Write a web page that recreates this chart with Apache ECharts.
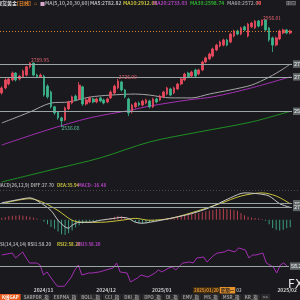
<!DOCTYPE html>
<html><head><meta charset="utf-8">
<script src="https://cdn.jsdelivr.net/npm/echarts@6/dist/echarts.min.js"></script>
<style>html,body{margin:0;padding:0;background:#1a1a1e;}#c{width:300px;height:300px;}</style>
</head><body><div id="c"></div>
<script>
// ---- price candles (values) ----
const open=[2670,2690,2705,2721,2748,2725,2733,2740,2772,2787,
2740,2733,2736,2697,2674,2616,2596,2573,2565,2608,
2631,2658,2647,2694,2627,2635,2647,2635,2651,2643,
2635,2651,2670,2690,2713,2682,2647,2596,2616,2631,
2623,2631,2639,2616,2647,2643,2655,2666,2686,2670,
2686,2705,2721,2748,2736,2760,2744,2760,2791,2803,
2814,2838,2853,2857,2877,2869,2892,2912,2900,2928,
2892,2928,2924,2951,2935,2955,2924,2885,2857,2881,
2904,2916,2904];
const close=[2690,2721,2725,2748,2721,2736,2756,2772,2787,2740,
2733,2740,2662,2655,2616,2592,2573,2561,2612,2635,
2655,2643,2701,2627,2643,2651,2635,2647,2639,2631,
2647,2674,2697,2717,2682,2655,2592,2623,2631,2623,
2639,2643,2616,2647,2635,2658,2674,2690,2662,2690,
2705,2725,2744,2733,2752,2736,2760,2791,2807,2822,
2842,2857,2869,2877,2857,2900,2912,2900,2924,2916,
2939,2943,2951,2931,2955,2916,2877,2857,2885,2912,
2916,2904,2912];
const high=[2696,2728,2731,2754,2752,2741,2762,2776,2789.95,2789,
2745,2746,2741,2704,2680,2620,2600,2578,2617,2640,
2660,2664,2713,2698,2648,2656,2652,2652,2656,2648,
2652,2680,2703,2726.00,2718,2686,2652,2628,2636,2637,
2644,2648,2644,2652,2652,2663,2679,2695,2691,2695,
2710,2730,2749,2753,2757,2765,2765,2796,2812,2828,
2847,2862,2874,2882,2882,2906,2917,2917,2929,2933,
2944,2948,2955,2955,2956.01,2952,2928,2890,2890,2917,
2921,2920,2917];
const low=[2664,2684,2700,2716,2715,2719,2728,2735,2766,2735,
2728,2729,2656,2648,2610,2585,2566,2536.68,2560,2603,
2626,2638,2642,2620,2621,2630,2630,2630,2634,2626,
2630,2646,2665,2685,2676,2649,2580,2590,2610,2618,
2618,2626,2610,2611,2630,2638,2650,2661,2657,2665,
2681,2700,2716,2728,2731,2731,2739,2755,2786,2798,
2809,2833,2848,2852,2852,2864,2887,2895,2895,2911,
2887,2923,2919,2926,2930,2911,2870,2830,2852,2876,
2899,2899,2899];
// ---- moving averages [index, value] read at points ----
const ma5=[[0,2553],[8,2596],[14,2631],[19,2635],[25,2654],[31,2662],[38,2666],[42,2662],[48,2651],[54,2651],[59,2666],[65,2682],[71,2701],[76,2732],[80,2764],[82,2782.82]];
const ma20=[[0,2467],[13,2526],[25,2573],[37,2604],[42,2619],[53,2643],[60,2655],[71,2690],[82,2733.03]];
const ma30=[[0,2323],[14,2370],[28,2417],[42,2479],[56,2518],[71,2557],[82,2598.74]];
// ---- MACD ----
const diff=[[0,38],[3,42.5],[6,47],[8,49],[11,38],[14,20.7],[16,-1],[18,-16],[19,-18.5],[20,-12],[22,-5.5],[25,-5.5],[28,-1],[32,3.3],[34,5.5],[36,3.3],[38,-5.5],[40,-7.6],[42,-5.5],[48,3.3],[54,14],[59,27],[65,49],[69,60],[73,58],[76,53],[79,36],[82,27.70]];
const dea=[[0,36],[8,47],[12,38],[16,20.7],[20,-1],[23,-5.5],[28,-5.5],[34,-1],[38,3.3],[42,-1],[48,3.3],[56,20.7],[62,36],[68,53],[74,60],[78,53],[82,35.94]];
const macdHist=[4,6,8,9,9,10,9,8,7,5,
3,1,-4,-10,-16,-20,-26,-32,-34,-30,
-24,-17,-12,-8,-6,-4,-3,-2,-1,1,
2,4,7,9,8,5,2,-2,-5,-7,
-8,-7,-6,-4,-2,1,2,3,4,6,
7,9,11,12,13,14,15,17,19,21,
22,24,24,25,24,23,22,20,15,10,
7,5,4,3,2,-2,-10,-18,-22,-24,
-22,-19,-16.48];
// ---- RSI ----
const rsi=[[0,73.2],[3,75.9],[4,69.2],[6,77.3],[7,69.2],[8,62.4],[10,62.4],[11,59.7],[12,46.2],[13,50.3],[15,36.8],[16,31],[18,31],[20,43.5],[21,53],[22,59.7],[23,46.2],[25,48.9],[26,48.9],[28,50.3],[30,53],[32,55.7],[33,62.4],[34,50.3],[36,48.9],[37,36.8],[39,42.2],[40,46.2],[42,43.5],[44,48.9],[45,53],[46,50.3],[48,55.7],[49,57],[50,53],[52,62.4],[54,63.8],[55,62.4],[56,69.2],[58,70.5],[59,63.8],[61,73.2],[62,75.9],[64,77.3],[65,80],[67,77.3],[68,82.7],[70,80],[71,69.2],[72,73.2],[73,73.2],[75,75.9],[76,62.4],[78,57],[79,48.9],[80,59.7],[81,62.4],[82,58.20]];
// ---- ticks ----
const tickIndex=[12,30,46,82];
const tickText=['2024/11','2024/12','2025/01','2025/02'];
const extremes=[[8,2789.95,'high'],[33,2726.00,'high'],[74,2956.01,'high'],[17,2536.68,'low']];

const cats=open.map((_,i)=>String(i));
const candleData=open.map((o,i)=>[o,close[i],low[i],high[i]]);
const F='"Noto Sans CJK SC","Noto Sans",sans-serif';
const RED='#ea4a5e',GREEN='#3bb58a',GRAY='#a5a5a5',PURPLE='#a32fb3',DGREEN='#1f8f24',YEL='#c9c23c';
const LVL='#9aa5a5';
const lastClose=close[close.length-1];

function lvlLine(v,txt){
  return {symbol:'none',silent:true,lineStyle:{color:LVL,type:'solid',width:1},
    label:{show:true,position:'end',distance:1,formatter:txt,color:'#eee',backgroundColor:'#5f6666',fontSize:5.5,padding:[1,1],fontFamily:F},
    data:[{yAxis:v}]};
}

const chart=echarts.init(document.getElementById('c'),null,{renderer:'canvas'});
chart.setOption({
  backgroundColor:'#1a1a1e',animation:false,textStyle:{fontFamily:F},
  title:[
    {left:-3,top:1,padding:0,text:'{w|现货黄金}{o|[日线]}{o2|⌂}{p|■}{g|MA(5,10,20,30,60)}{g2|MA5:2782.82}{y|MA10:2912.08}{pu|MA20:2733.03}{gr|MA30:2598.74}{g3|MA60:2572.00}{r|M}',
     textStyle:{fontSize:5,rich:{
       w:{color:'#ddd',fontSize:5,width:20},o:{color:'#ef8a2a',fontSize:5,width:17},o2:{color:'#ef8a2a',fontSize:5,width:6},
       p:{color:'#d9a9d0',fontSize:5,width:5},g:{color:'#aaa',fontSize:5,width:45},g2:{color:'#bbb',fontSize:5,width:33},
       y:{color:YEL,fontSize:5,width:30},pu:{color:'#b040c0',fontSize:5,width:37},gr:{color:'#2fb02f',fontSize:5,width:37},
       g3:{color:'#999',fontSize:5,width:30},r:{color:'#e33',fontSize:5}}}},
    {left:286,top:0,padding:0,text:'⊞⊟',textStyle:{color:'#888',fontSize:6}},
    {left:-3,top:183,padding:0,text:'{g|MACD(26,12,9) DIFF:27.70}{y|DEA:35.94}{p|MACD:-16.48}',
     textStyle:{fontSize:4.5,rich:{g:{color:'#aaa',fontSize:4.5,width:60},y:{color:YEL,fontSize:4.5,width:21},p:{color:'#b040c0',fontSize:4.5}}}},
    {left:-3,top:242,padding:0,text:'{g|RSI(14,14,14) RSI1:58.20}{y|RSI2:58.20}{p|RSI3:58.20}',
     textStyle:{fontSize:4.5,rich:{g:{color:'#aaa',fontSize:4.5,width:60},y:{color:YEL,fontSize:4.5,width:20},p:{color:'#b040c0',fontSize:4.5}}}},
    {left:193,top:287,padding:0,text:'{a|2025/01/20}{b|星期一}{c| 02}',
     textStyle:{fontSize:4.5,rich:{a:{color:'#e8962e',backgroundColor:'#3d2b12',fontSize:4.5,padding:[1,1]},b:{color:'#222',backgroundColor:'#e8922c',fontSize:4.5,padding:[1,1]},c:{color:'#aaa',fontSize:4.5}}}},
    {left:288,top:279,padding:0,text:'FX',textStyle:{color:'#e6e6e6',fontSize:12,fontWeight:'normal',fontFamily:'"DejaVu Sans",sans-serif'}},
    {left:0,top:294,padding:0,text:'{t|K线GAP} {g|SARPDR_指} {g|EXPMA_指} {g|BOLL_指} {g|CCI_指} {g|DKI_指} {g|DPO_指} {g|DI_指} {g|EMV_指} {g|MS_指} {g|MSR_指} {g|KR_指} {g|>>}',
     textStyle:{fontSize:4.5,rich:{t:{color:'#fff',backgroundColor:'#e85a1c',fontSize:4.5,padding:[1,2]},g:{color:'#9a9a9a',backgroundColor:'#2a2a2c',fontSize:4.5,padding:[1,2]}}}}
  ],
  graphic:[{type:'line',shape:{x1:0,y1:190.5,x2:300,y2:190.5},style:{stroke:'#4a4a4a',lineDash:[1,2],lineWidth:1},silent:true}],
  grid:[
    {left:0,right:8,top:12,height:171},
    {left:0,right:8,top:192,height:44},
    {left:0,right:8,top:247,height:40}
  ],
  xAxis:[0,1,2].map(g=>({type:'category',gridIndex:g,data:cats,boundaryGap:true,
    axisLine:{show:false},axisTick:{show:false},splitLine:{show:false},
    axisLabel:{show:g===2,margin:1,fontSize:5,fontWeight:'bold',color:'#cfcfcf',
      interval:(i)=>tickIndex.includes(i),
      formatter:(v,i)=>{const k=tickIndex.indexOf(i);return k>=0?tickText[k]:'';}}})),
  yAxis:[
    {gridIndex:0,min:2319,max:2986,show:false,splitLine:{show:false}},
    {gridIndex:1,min:-36,max:62,show:false,splitLine:{show:false}},
    {gridIndex:2,min:30,max:84,show:false,splitLine:{show:false}}
  ],
  series:[
    {type:'line',xAxisIndex:0,yAxisIndex:0,data:ma30,symbol:'none',lineStyle:{color:DGREEN,width:1},smooth:0.3,z:2,markLine:lvlLine(2598.74,'2598.74')},
    {type:'line',xAxisIndex:0,yAxisIndex:0,data:ma20,symbol:'none',lineStyle:{color:PURPLE,width:1},smooth:0.3,z:2,markLine:lvlLine(2733.03,'2733.03')},
    {type:'line',xAxisIndex:0,yAxisIndex:0,data:ma5,symbol:'none',lineStyle:{color:GRAY,width:1},smooth:0.3,z:2,markLine:lvlLine(2782.82,'2782.82')},
    {type:'candlestick',xAxisIndex:0,yAxisIndex:0,data:candleData,barWidth:2.2,z:3,
     itemStyle:{color:RED,color0:GREEN,borderColor:RED,borderColor0:GREEN,borderWidth:0.8},
     markLine:{symbol:'none',silent:true,lineStyle:{color:'#d9822b',type:[1,2],width:1},label:{show:false},data:[{yAxis:lastClose}]},
     markPoint:{symbol:'circle',symbolSize:0,silent:true,
       data:extremes.map(([i,v,t])=>({coord:[i,v],value:v.toFixed(2),
         label:{show:true,position:'right',distance:1,offset:t==='high'?[0,-2]:[-1,1],fontSize:5,
           color:t==='high'?'#e0606e':'#5cbf9c',formatter:(p)=>p.value}}))}},
    {type:'bar',xAxisIndex:1,yAxisIndex:1,data:macdHist,barWidth:1,
     itemStyle:{color:(p)=>p.value>=0?'#b8404e':'#3c9e7c'}},
    {type:'line',xAxisIndex:1,yAxisIndex:1,data:dea,symbol:'none',smooth:0.3,lineStyle:{color:YEL,width:1},markLine:lvlLine(35.94,'35.94')},
    {type:'line',xAxisIndex:1,yAxisIndex:1,data:diff,symbol:'none',smooth:0.3,lineStyle:{color:'#c8c8c8',width:1},markLine:lvlLine(27.70,'27.70')},
    {type:'line',xAxisIndex:2,yAxisIndex:2,data:rsi,symbol:'none',lineStyle:{color:PURPLE,width:1},markLine:lvlLine(58.20,'58.20')}
  ]
});
</script></body></html>
